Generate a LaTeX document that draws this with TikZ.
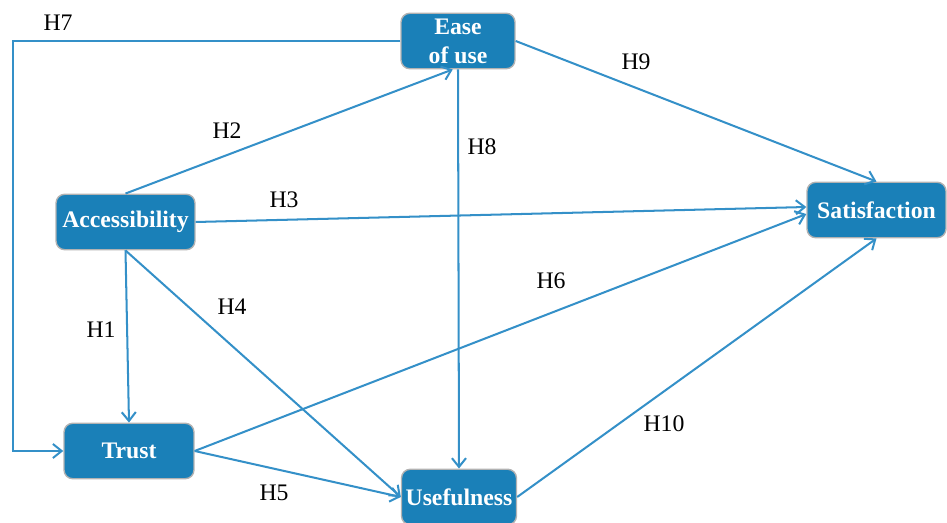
\documentclass[tikz,border=0pt]{standalone}
\usepackage{fontspec}
\setmainfont{Liberation Serif}
\definecolor{boxblue}{RGB}{26,128,184}
\definecolor{linkblue}{RGB}{52,144,200}
\tikzset{box/.style = {draw=gray!60, line width=0.8pt, fill=boxblue, rounded corners=5pt, text=white, font=\fontsize{13.5}{16.5}\selectfont\bfseries, align=center, inner sep=1pt, minimum height=1.11cm}}
\tikzset{link/.style = {draw=linkblue, line width=1.15pt, -{Straight Barb[length=5pt,width=8pt]}}}
\tikzset{hyp/.style = {font=\fontsize{13.5}{14}\selectfont, inner sep=0}}
\usetikzlibrary{arrows.meta}

\begin{document}
\begin{tikzpicture}[x=0.02cm, y=-0.02cm]
    \useasboundingbox (0,0) rectangle (947,523);
    % constructs
    \node [box, minimum width=2.28cm] (ease) at (458,41) {Ease\\of use};
    \node [box, minimum width=2.78cm] (acc) at (125.5,222) {Accessibility};
    \node [box, minimum width=2.78cm] (sat) at (876.5,210) {Satisfaction};
    \node [box, minimum width=2.6cm] (trust) at (129,451) {Trust};
    \node [box, minimum width=2.3cm] (use) at (459,497) {Usefulness};
    \coordinate (bend) at (13,41);

    % hypotheses
    \draw [link] (acc.south) -- (trust.north);
    \draw [link] (acc.north) -- ([xshift=-3pt]ease.south);
    \draw [link] (acc.east) -- ([yshift=1.7pt]sat.west);
    \draw [link] (acc.south) -- (use.west);
    \draw [link] (trust.east) -- (use.west);
    \draw [link] (trust.east) -- ([yshift=-2.3pt]sat.west);
    \draw [link] (ease.west) -- (bend) |- (trust.west);
    \draw [link] (ease.south) -- (use.north);
    \draw [link] (ease.east) -- (sat.north);
    \draw [link] (use.east) -- (sat.south);

    \node [hyp] (h1) at (101,330) {H1};
    \node [hyp] (h2) at (227,131) {H2};
    \node [hyp] (h3) at (284,200) {H3};
    \node [hyp] (h4) at (232,307) {H4};
    \node [hyp] (h5) at (274,493) {H5};
    \node [hyp] (h6) at (551,281) {H6};
    \node [hyp] (h7) at (58,23) {H7};
    \node [hyp] (h8) at (482,147) {H8};
    \node [hyp] (h9) at (636,62) {H9};
    \node [hyp] (h10) at (664,424) {H10};
\end{tikzpicture}
\end{document}
